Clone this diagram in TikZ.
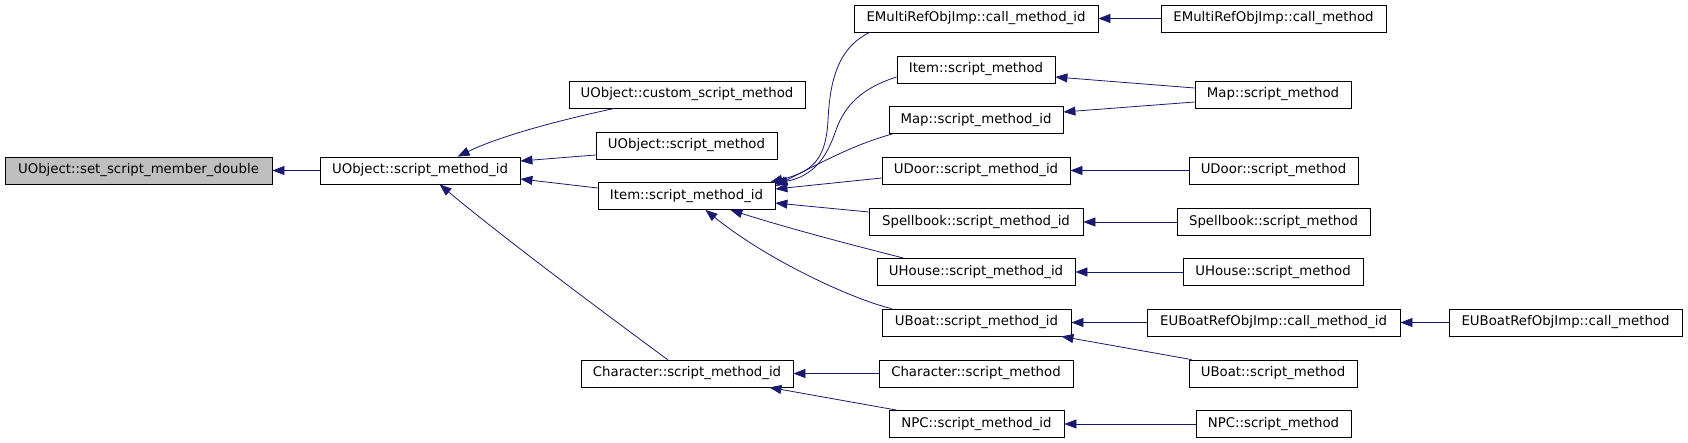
\documentclass[tikz,border=0pt]{standalone}
\usepackage{fontspec}
\setmainfont{DejaVu Sans}
\usetikzlibrary{arrows.meta}
\definecolor{edgecol}{HTML}{191970}
\definecolor{grayfill}{HTML}{BFBFBF}
\tikzset{
  fn/.style={draw=black, line width=0.8pt, fill=white, inner sep=0pt,
    minimum height=27pt, font=\fontsize{13.3}{16}\selectfont},
  fnroot/.style={fn, fill=grayfill},
  edge/.style={draw=edgecol, line width=0.8pt,
    -{Triangle[length=12pt,width=9pt]}}
}
\begin{document}
\begin{tikzpicture}[x=1pt,y=-1pt]
\useasboundingbox (0,0) rectangle (1688,443);
% column 0
\node[fnroot, minimum width=267pt] (setmem) at (138.5,170.5) {UObject::set\_script\_member\_double};
% column 1
\node[fn, minimum width=200pt] (uosmid) at (420,170.5) {UObject::script\_method\_id};
% column 2
\node[fn, minimum width=236pt] (custom) at (687,94.5) {UObject::custom\_script\_method};
\node[fn, minimum width=181pt] (uosm) at (686.5,145.5) {UObject::script\_method};
\node[fn, minimum width=177pt] (itemsmid) at (686.5,196) {Item::script\_method\_id};
\node[fn, minimum width=212pt] (charsmid) at (687,373.5) {Character::script\_method\_id};
% column 3
\node[fn, minimum width=244pt] (emcmid) at (976,18.5) {EMultiRefObjImp::call\_method\_id};
\node[fn, minimum width=158pt] (itemsm) at (976,69.5) {Item::script\_method};
\node[fn, minimum width=174pt] (mapsmid) at (976,120) {Map::script\_method\_id};
\node[fn, minimum width=188pt] (udoorsmid) at (976,170.5) {UDoor::script\_method\_id};
\node[fn, minimum width=214pt] (spellsmid) at (976,222) {Spellbook::script\_method\_id};
\node[fn, minimum width=198pt] (uhousesmid) at (976,272) {UHouse::script\_method\_id};
\node[fn, minimum width=189pt] (uboatsmid) at (976.5,322.5) {UBoat::script\_method\_id};
\node[fn, minimum width=194pt] (charsm) at (976,373.5) {Character::script\_method};
\node[fn, minimum width=175pt] (npcsmid) at (976.5,424) {NPC::script\_method\_id};
% column 4
\node[fn, minimum width=225pt] (emcm) at (1273.5,18.5) {EMultiRefObjImp::call\_method};
\node[fn, minimum width=156pt] (mapsm) at (1273,94.5) {Map::script\_method};
\node[fn, minimum width=169pt] (udoorsm) at (1273.5,170.5) {UDoor::script\_method};
\node[fn, minimum width=193pt] (spellsm) at (1273.5,222) {Spellbook::script\_method};
\node[fn, minimum width=180pt] (uhousesm) at (1273,272) {UHouse::script\_method};
\node[fn, minimum width=253pt] (eubcmid) at (1273.5,322.5) {EUBoatRefObjImp::call\_method\_id};
\node[fn, minimum width=168pt] (uboatsm) at (1273,373.5) {UBoat::script\_method};
\node[fn, minimum width=155pt] (npcsm) at (1273.5,424) {NPC::script\_method};
% column 5
\node[fn, minimum width=233pt] (eubcm) at (1565.5,322.5) {EUBoatRefObjImp::call\_method};

% edges
\draw[edge] (uosmid.west) -- (setmem.east);
\draw[edge] ([xshift=46pt]custom.south west) .. controls (560,120) and (500,136) .. ([xshift=138pt]uosmid.north west);
\draw[edge] ([yshift=-9.5pt]uosm.west) -- ([yshift=9.5pt]uosmid.east);
\draw[edge] ([yshift=8pt]itemsmid.west) -- ([yshift=-8.5pt]uosmid.east);
\draw[edge] ([xshift=87pt]charsmid.north west) .. controls (600,310) and (500,235) .. ([xshift=120pt]uosmid.south west);

\draw[edge] ([xshift=16pt]emcmid.south west) .. controls (838,48) and (830,80) .. (828,120) .. controls (826,160) and (812,172) .. ([xshift=-5pt]itemsmid.north east);
\draw[edge] ([yshift=-7.5pt]itemsm.west) .. controls (862,88) and (845,105) .. (836,130) .. controls (826,160) and (812,176) .. ([yshift=-1.5pt]itemsmid.north east);
\draw[edge] ([xshift=4pt]mapsmid.south west) .. controls (860,143) and (835,155) .. ([yshift=10pt]itemsmid.east);
\draw[edge] ([yshift=-7.5pt]udoorsmid.west) -- ([yshift=7pt]itemsmid.east);
\draw[edge] ([yshift=10pt]spellsmid.west) -- ([yshift=-7pt]itemsmid.east);
\draw[edge] ([xshift=27pt]uhousesmid.north west) .. controls (880,252) and (800,232) .. ([xshift=-45pt]itemsmid.south east);
\draw[edge] ([xshift=10pt]uboatsmid.north west) .. controls (855,300) and (770,262) .. ([xshift=-70pt]itemsmid.south east);

\draw[edge] ([yshift=6.5pt]mapsm.west) -- ([yshift=-7.5pt]itemsm.east);
\draw[edge] ([yshift=-7.5pt]mapsm.west) -- ([yshift=8pt]mapsmid.east);
\draw[edge] (emcm.west) -- (emcmid.east);
\draw[edge] (udoorsm.west) -- (udoorsmid.east);
\draw[edge] (spellsm.west) -- (spellsmid.east);
\draw[edge] (uhousesm.west) -- (uhousesmid.east);
\draw[edge] (eubcmid.west) -- (uboatsmid.east);
\draw[edge] (eubcm.west) -- (eubcmid.east);
\draw[edge] ([xshift=3pt]uboatsm.north west) -- ([xshift=-10pt]uboatsmid.south east);
\draw[edge] (charsm.west) -- (charsmid.east);
\draw[edge] ([xshift=8pt]npcsmid.north west) -- ([xshift=-24pt]charsmid.south east);
\draw[edge] (npcsm.west) -- (npcsmid.east);
\end{tikzpicture}
\end{document}
